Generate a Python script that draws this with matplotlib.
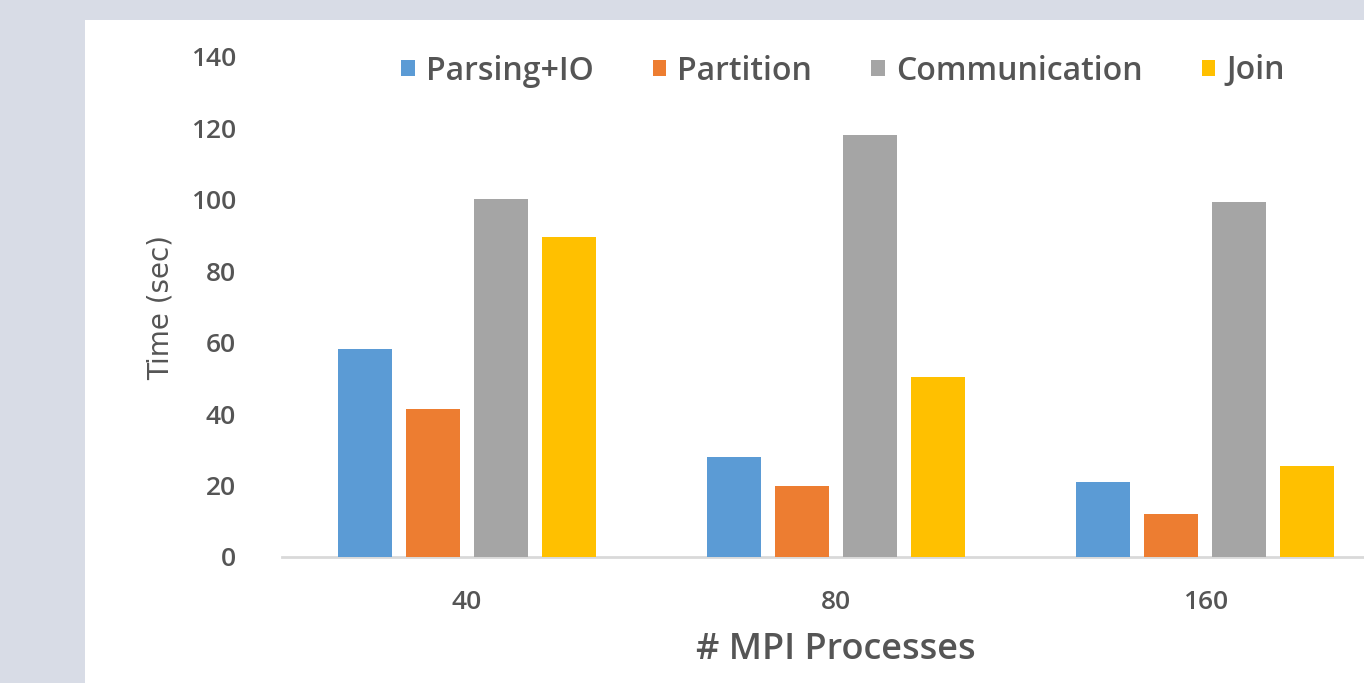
import numpy as np
import matplotlib.pyplot as plt
from matplotlib.patches import Rectangle

procs = ["40", "80", "160"]
phases = ["Parsing+IO", "Partition", "Communication", "Join"]
parsing_io = [58.3, 28.0, 21.0]
partition = [41.5, 20.0, 12.0]
communication = [100.3, 118.2, 99.4]
join = [89.6, 50.4, 25.5]
colors = ["#5b9bd5", "#ed7d31", "#a5a5a5", "#ffc000"]

txt = "#555555"
plt.rcParams['font.family'] = ['Open Sans', 'DejaVu Sans']
plt.rcParams['font.weight'] = 'semibold'

fig = plt.figure(figsize=(13.64, 6.83), dpi=100)
fig.patch.set_facecolor("#d8dce6")
# white slide panel behind the chart
fig.patches.append(Rectangle((85 / 1364, 0), 1.0, 1 - 20 / 683,
                             transform=fig.transFigure, facecolor="white",
                             edgecolor="none", zorder=-10))

ax = fig.add_axes([282 / 1364, 126 / 683, 1108 / 1364, 500 / 683])
ax.set_zorder(2)
ax.set_facecolor("none")

x = np.arange(len(procs))
width = 0.146
step = 0.184
series = [parsing_io, partition, communication, join]
for i, (vals, name) in enumerate(zip(series, phases)):
    ax.bar(x + (i - 1.5) * step, vals, width, color=colors[i], label=name, zorder=3)

ax.set_xlim(-0.5, 2.5)
ax.set_ylim(0, 140)
ax.set_yticks(range(0, 141, 20))
ax.set_xticks(x)
ax.set_xticklabels(procs)

for s in ["top", "right", "left"]:
    ax.spines[s].set_visible(False)
ax.spines["bottom"].set_color("#d9d9d9")
ax.spines["bottom"].set_linewidth(2)
ax.tick_params(axis="both", length=0, labelsize=19, colors=txt)
ax.tick_params(axis="y", pad=33)
ax.tick_params(axis="x", pad=24)

ax.set_xlabel("# MPI Processes", fontsize=26, color=txt, labelpad=12,
              weight='semibold')
ax.set_ylabel("Time (sec)", fontsize=20, color=txt, labelpad=12,
              family=['Liberation Sans Narrow', 'DejaVu Sans'], weight='normal')

leg = fig.legend(loc="center", bbox_to_anchor=(0.618, 1 - 71 / 683), ncol=4,
                 frameon=False, fontsize=23, handlelength=0.42, handleheight=0.42,
                 handletextpad=0.35, columnspacing=1.85, labelcolor=txt)
leg.set_zorder(3)

fig.savefig("out.png", dpi=100, facecolor=fig.get_facecolor())
